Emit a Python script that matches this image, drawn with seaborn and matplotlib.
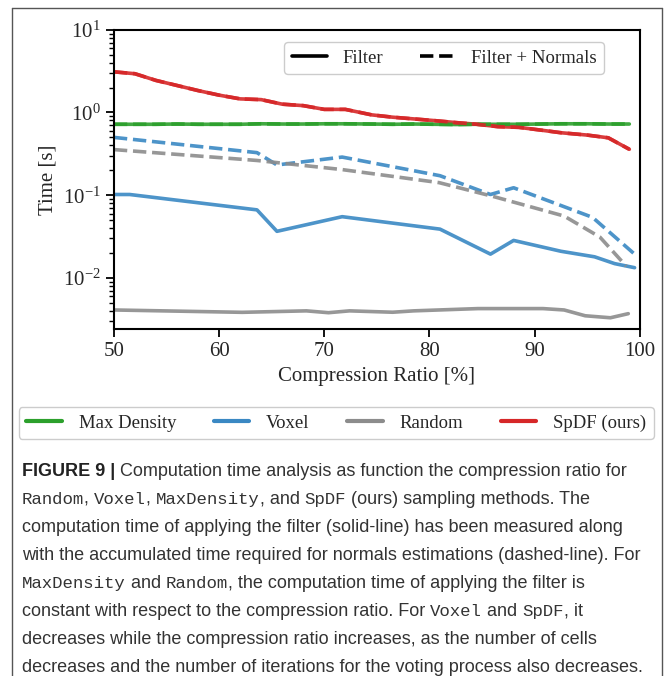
import matplotlib
matplotlib.use("Agg")
import matplotlib.pyplot as plt
from matplotlib.lines import Line2D
import numpy as np
import pandas as pd
import seaborn as sns

# values (time in seconds)
spdf_x = [50, 52, 54, 56, 58, 60, 62, 64, 66, 68, 70, 72, 74.5, 76.5, 78.5,
          80.5, 82.5, 84.5, 86.5, 88.5, 90.5, 92.5, 95, 97, 99]
spdf_y = [3.1, 2.94, 2.44, 2.12, 1.84, 1.62, 1.46, 1.43, 1.26, 1.21, 1.09, 1.09,
          0.936, 0.877, 0.836, 0.797, 0.755, 0.72, 0.674, 0.661, 0.614, 0.569,
          0.533, 0.494, 0.359]
maxd_x = spdf_x
maxd_y = [0.72, 0.72, 0.72, 0.725, 0.72, 0.72, 0.72, 0.73, 0.725, 0.725, 0.73,
          0.73, 0.725, 0.72, 0.725, 0.72, 0.715, 0.72, 0.72, 0.72, 0.725, 0.73,
          0.73, 0.725, 0.725]
voxel_x = [50, 51.5, 63.6, 65.5, 71.7, 81, 85.8, 88, 92.5, 95.7, 97.6, 99.5]
voxel_y = [0.102, 0.102, 0.0665, 0.0366, 0.055, 0.0389, 0.0194, 0.0284, 0.021,
           0.018, 0.0149, 0.0133]
voxel_n_x = [50, 63.6, 65.5, 71.7, 81, 85.8, 88, 95.5, 99.5]
voxel_n_y = [0.5, 0.327, 0.232, 0.289, 0.172, 0.102, 0.123, 0.054, 0.0194]
random_x = [50, 62.2, 68.3, 70.4, 72.4, 76.5, 78.5, 84.6, 90.8, 92.8, 94.8, 97.2, 98.9]
random_y = [0.0041, 0.00384, 0.0040, 0.0038, 0.0040, 0.00385, 0.0040, 0.00426,
            0.00426, 0.0041, 0.00349, 0.0033, 0.0037]
random_n_x = [50, 63.6, 71.7, 80.9, 86, 92.8, 96.2, 98.7]
random_n_y = [0.356, 0.263, 0.204, 0.142, 0.097, 0.056, 0.0312, 0.0139]

methods = ["Max Density", "Voxel", "Random", "SpDF (ours)"]
colors = ["#2ca02c", "#3a88c3", "#8c8c8c", "#d62728"]
modes = ["Filter", "Filter + Normals"]

series = {
    ("Max Density", "Filter"): (maxd_x, maxd_y),
    ("Max Density", "Filter + Normals"): (maxd_x, maxd_y),
    ("Voxel", "Filter"): (voxel_x, voxel_y),
    ("Voxel", "Filter + Normals"): (voxel_n_x, voxel_n_y),
    ("Random", "Filter"): (random_x, random_y),
    ("Random", "Filter + Normals"): (random_n_x, random_n_y),
    ("SpDF (ours)", "Filter"): (spdf_x, spdf_y),
    ("SpDF (ours)", "Filter + Normals"): (spdf_x, spdf_y),
}
rows = []
for (m, mode), (xs, ys) in series.items():
    for x, y in zip(xs, ys):
        rows.append({"method": m, "mode": mode, "ratio": x, "time": y})
df = pd.DataFrame(rows)

sns.set_style("ticks")
plt.rcParams["font.family"] = ["Liberation Serif", "DejaVu Serif"]
plt.rcParams["mathtext.fontset"] = "stix"

fig = plt.figure(figsize=(6.7, 6.76), dpi=100)
ax = fig.add_axes([0.170, 0.513, 0.785, 0.443])

palette = dict(zip(methods, colors))
for mode, ls in zip(modes, ["-", "--"]):
    sns.lineplot(data=df[df["mode"] == mode], x="ratio", y="time", hue="method",
                 palette=palette, estimator=None, sort=True, linewidth=2.6,
                 linestyle=ls, alpha=0.9, legend=False, ax=ax)

ax.set_yscale("log")
ax.set_ylim(0.0024, 10)
ax.set_xlim(50, 100)
ax.set_xticks([50, 60, 70, 80, 90, 100])
ax.set_xlabel("Compression Ratio [%]", fontsize=15)
ax.set_ylabel("Time [s]", fontsize=15)
ax.tick_params(axis="both", which="major", labelsize=15, length=6, width=1.3,
               direction="out", color="black")
ax.tick_params(axis="y", which="minor", length=3.5, width=1.0, color="black")
for s in ax.spines.values():
    s.set_linewidth(1.5)
    s.set_color("black")

# top legend: line styles
style_handles = [Line2D([], [], color="black", lw=2.6, ls="-"),
                 Line2D([], [], color="black", lw=2.6, ls="--")]
ax.legend(style_handles, modes, ncol=2, loc="upper right",
          bbox_to_anchor=(0.95, 0.99), fontsize=13.5, handlelength=1.9,
          handletextpad=0.8, columnspacing=2.0, edgecolor="#cccccc",
          framealpha=1)

# bottom legend: methods
method_handles = [Line2D([], [], color=c, lw=3) for c in colors]
fig.legend(method_handles, methods, ncol=4, loc="upper center",
           bbox_to_anchor=(0.502, 0.412), fontsize=13.5, handlelength=1.9,
           handletextpad=0.9, columnspacing=2.0, edgecolor="#cccccc",
           framealpha=1)

# outer frame of the figure panel
frame_kw = dict(color="#555555", lw=1.0, transform=fig.transFigure)
fig.add_artist(Line2D([12 / 670, 12 / 670], [0, 1 - 8 / 676], **frame_kw))
fig.add_artist(Line2D([12 / 670, 662 / 670], [1 - 8 / 676, 1 - 8 / 676], **frame_kw))
fig.add_artist(Line2D([662 / 670, 662 / 670], [0, 1 - 8 / 676], **frame_kw))

# caption, mixed fonts
sans = ["Liberation Sans", "DejaVu Sans"]
mono = ["Liberation Mono", "DejaVu Sans Mono"]
cap_color = "#333333"
caption = [
    [("FIGURE 9 |", "b"), (" Computation time analysis as function the compression ratio for", "s")],
    [("Random", "m"), (", ", "s"), ("Voxel", "m"), (", ", "s"), ("MaxDensity", "m"),
     (", and ", "s"), ("SpDF", "m"), (" (ours) sampling methods. The", "s")],
    [("computation time of applying the filter (solid-line) has been measured along", "s")],
    [("with the accumulated time required for normals estimations (dashed-line). For", "s")],
    [("MaxDensity", "m"), (" and ", "s"), ("Random", "m"),
     (", the computation time of applying the filter is", "s")],
    [("constant with respect to the compression ratio. For ", "s"), ("Voxel", "m"),
     (" and ", "s"), ("SpDF", "m"), (", it", "s")],
    [("decreases while the compression ratio increases, as the number of cells", "s")],
    [("decreases and the number of iterations for the voting process also decreases.", "s")],
]
renderer = fig.canvas.get_renderer()
fw = fig.get_figwidth() * fig.dpi
y0, dy = 471, 28.1
for i, line in enumerate(caption):
    x = 22 / 670
    y = 1 - (y0 + i * dy) / 676
    for txt, kind in line:
        if kind == "b":
            t = fig.text(x, y, txt, family=sans, weight="bold", fontsize=13,
                         color="#222222", va="center")
        elif kind == "m":
            t = fig.text(x, y, txt, family=mono, fontsize=12.5, color=cap_color,
                         va="center")
        else:
            t = fig.text(x, y, txt, family=sans, fontsize=13, color=cap_color,
                         va="center")
        bb = t.get_window_extent(renderer)
        x += bb.width / fw

fig.savefig("out.png", dpi=100)
